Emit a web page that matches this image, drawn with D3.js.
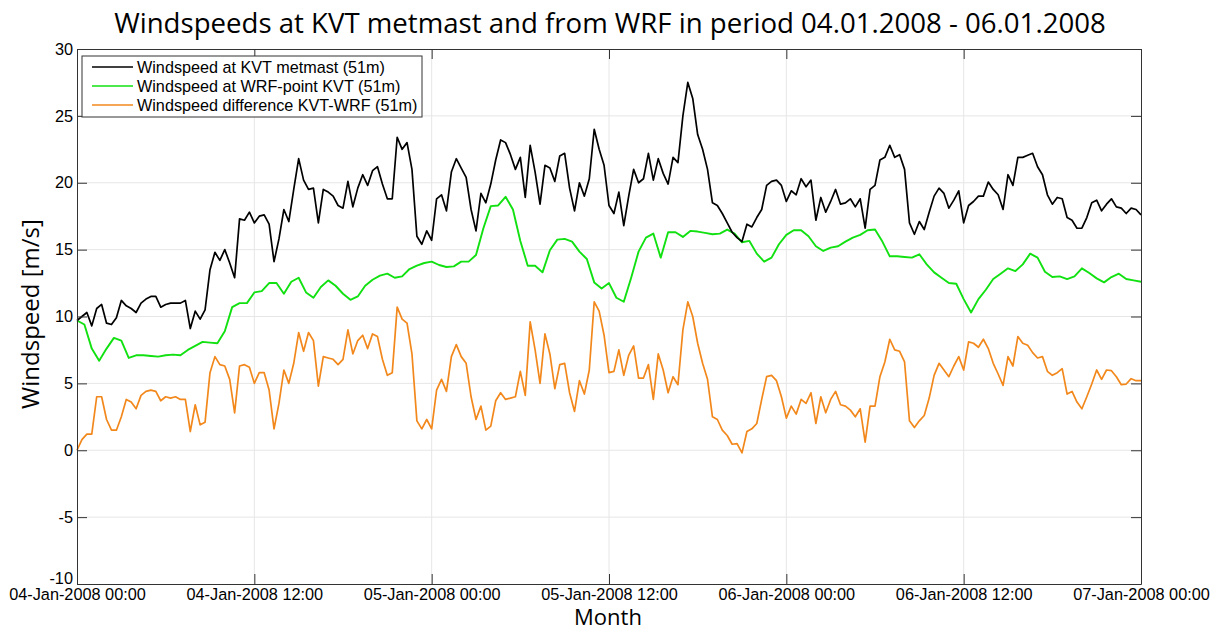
<!DOCTYPE html>
<html>
<head>
    <meta charset="utf-8">
    <title>Windspeeds KVT vs WRF</title>
    <script src="https://d3js.org/d3.v7.min.js"></script>
    <style>
        body { margin: 0; background: #fff; }
        .tick text { font-family: "Liberation Sans", Arial, sans-serif; font-size: 16.3px; fill: #000; }
        .bigText { font-family: "Open Sans", sans-serif; fill: #000; }
    </style>
</head>
<body>
    <div id="chart"></div>
    <script>
        // series start and sampling steps (measured every 20 min, WRF every 30 min)
        var startTime = Date.UTC(2008, 0, 4, 0, 0);
        var kvtStepMinutes = 20;
        var wrfStepMinutes = 30;

        // Windspeed at KVT metmast (51m)
        var kvtSpeed = [
            9.7, 10.0, 10.3, 9.3, 10.6, 10.9, 9.5, 9.4, 9.9, 11.2, 10.8, 10.6, 10.3, 11.0, 11.3, 11.5, 11.5, 10.7, 10.9, 11.0,
            11.0, 11.0, 11.2, 9.1, 10.4, 9.8, 10.5, 13.5, 14.8, 14.2, 15.0, 14.0, 12.9, 17.3, 17.2, 17.8, 17.0,
            17.5, 17.6, 16.9, 14.1, 15.8, 18.0, 17.1, 19.5, 21.8, 20.2, 19.5, 19.6, 17.0, 19.5, 19.3, 19.0, 18.3, 18.1,
            20.1, 18.2, 19.6, 20.6, 19.8, 20.9, 21.2, 19.9, 18.8, 18.8, 23.4, 22.5, 23.0, 21.0, 16.0, 15.4, 16.4, 15.7,
            18.8, 19.1, 17.9, 20.8, 21.8, 21.1, 20.4, 18.0, 16.4, 19.2, 18.5, 19.9, 21.7, 23.2, 23.0, 22.1, 21.0, 21.9,
            18.9, 22.8, 20.8, 18.4, 21.3, 21.1, 20.1, 22.0, 22.2, 19.6, 17.9, 20.0, 19.0, 20.3, 24.0, 22.5, 21.3, 18.3,
            17.7, 19.3, 16.8, 19.0, 21.0, 20.0, 20.3, 22.2, 20.2, 21.8, 20.7, 19.9, 21.9, 21.5, 25.0, 27.5, 26.3, 23.6,
            22.5, 21.0, 18.5, 18.3, 17.7, 17.0, 16.3, 15.9, 15.6, 16.9, 16.7, 17.4, 18.0, 19.8, 20.1, 20.2, 19.8, 18.6,
            19.4, 19.1, 20.3, 19.7, 20.2, 17.2, 18.9, 17.8, 18.6, 19.5, 18.4, 18.5, 18.8, 18.2, 18.8, 16.6, 19.5, 19.8,
            21.7, 21.9, 22.8, 21.9, 22.1, 21.0, 17.0, 16.15, 17.1, 16.5, 17.8, 19.0, 19.6, 19.2, 18.1, 18.7, 19.4, 17.0,
            18.3, 18.6, 19.0, 19.0, 20.05, 19.5, 19.1, 18.0, 20.6, 19.8, 21.9, 21.9, 22.05, 22.2, 21.2, 20.6, 19.1, 18.4,
            18.9, 18.8, 17.4, 17.2, 16.6, 16.6, 17.4, 18.5, 18.7, 17.9, 18.4, 18.8, 18.2, 18.1, 17.7, 18.1, 18.0, 17.6
        ];

        // Windspeed at WRF-point KVT (51m)
        var wrfSpeed = [
            9.7, 9.4, 7.6, 6.7, 7.6, 8.4, 8.2, 6.9, 7.1, 7.1, 7.05, 7.0, 7.1, 7.15, 7.1, 7.5, 7.8, 8.1, 8.05, 8.0,
            8.9, 10.7, 11.0, 11.0, 11.8,
            11.9, 12.5, 12.5, 11.7, 12.6, 12.9, 11.8, 11.4, 12.2, 12.7, 12.3, 11.7, 11.25, 11.5, 12.3, 12.75, 13.05, 13.2,
            12.9, 13.0, 13.55, 13.8, 14.0, 14.1,
            13.85, 13.7, 13.75, 14.1, 14.1, 14.6, 16.6, 18.25, 18.3, 18.95, 18.0, 15.65, 13.8, 13.8, 13.3, 14.95, 15.75,
            15.8, 15.6, 14.85, 14.3, 12.55, 12.1, 12.5,
            11.4, 11.1, 12.9, 14.85, 15.9, 16.2, 14.4, 16.3, 16.3, 15.95, 16.4, 16.35, 16.25, 16.15, 16.2, 16.5, 16.2,
            15.55, 15.65, 14.7, 14.1, 14.4, 15.4, 16.1,
            16.45, 16.45, 16.0, 15.25, 14.9, 15.15, 15.25, 15.6, 15.9, 16.1, 16.45, 16.5, 15.6, 14.5, 14.5, 14.45, 14.4,
            14.65, 13.9, 13.3, 12.9, 12.5, 12.45, 11.3,
            10.3, 11.3, 12.0, 12.8, 13.2, 13.6, 13.4, 13.9, 14.7, 14.4, 13.35, 12.95, 13.0, 12.8, 13.0, 13.6, 13.25,
            12.85, 12.55, 12.95, 13.2, 12.8, 12.7, 12.6
        ];

        // Windspeed difference KVT-WRF (51m)
        var speedDiff = [
            0.0, 0.8, 1.2, 1.2, 4.0, 4.0, 2.3, 1.5, 1.5, 2.5, 3.8, 3.6, 3.1, 4.1, 4.4, 4.5, 4.4, 3.7, 4.0, 3.9,
            4.0, 3.8, 3.8, 1.4, 3.4, 1.9, 2.1, 5.8, 7.0, 6.4, 6.3, 5.3, 2.8, 6.3, 6.4, 6.2, 5.0,
            5.8, 5.8, 4.5, 1.6, 3.5, 6.0, 5.0, 6.5, 8.8, 7.4, 8.8, 8.2, 4.8, 7.0, 6.9, 6.8, 6.4, 6.8,
            9.0, 7.2, 8.2, 8.6, 7.6, 8.7, 8.5, 6.8, 5.6, 5.8, 10.7, 9.8, 9.5, 7.2, 2.2, 1.6, 2.3, 1.6,
            4.5, 5.3, 4.4, 7.0, 7.9, 7.0, 6.5, 4.0, 2.3, 3.3, 1.5, 1.8, 3.7, 4.3, 3.8, 3.9, 4.0, 5.9,
            4.1, 9.6, 7.5, 5.0, 8.7, 7.2, 4.6, 6.4, 6.5, 4.3, 2.9, 5.2, 4.2, 6.0, 11.1, 10.4, 8.6, 5.8,
            5.9, 7.5, 5.6, 7.1, 7.8, 5.4, 5.4, 6.4, 3.8, 7.2, 6.0, 4.3, 5.5, 4.9, 9.0, 11.1, 10.0, 8.0,
            6.5, 5.3, 2.5, 2.3, 1.5, 1.1, 0.45, 0.5, -0.2, 1.4, 1.6, 2.0, 3.8, 5.5, 5.6, 5.2, 4.0, 2.4,
            3.3, 2.7, 3.8, 3.5, 4.3, 2.0, 4.0, 2.8, 3.8, 4.4, 3.4, 3.3, 3.0, 2.5, 3.1, 0.6, 3.3, 3.3,
            5.5, 6.6, 8.3, 7.5, 7.4, 6.6, 2.2, 1.7, 2.2, 2.6, 3.9, 5.6, 6.5, 6.0, 5.5, 6.3, 7.0, 6.0,
            8.1, 8.0, 7.7, 8.3, 7.6, 6.5, 5.7, 4.85, 7.0, 6.3, 8.5, 8.0, 7.85, 7.3, 6.9, 7.0, 5.9, 5.6,
            5.8, 6.1, 4.2, 4.4, 3.6, 3.1, 4.0, 4.95, 6.0, 5.3, 6.0, 5.95, 5.5, 4.9, 4.95, 5.35, 5.2, 5.2
        ];

        var yTicks = [-10, -5, 0, 5, 10, 15, 20, 25, 30];
        var seriesNames = ["Windspeed at KVT metmast (51m)", "Windspeed at WRF-point KVT (51m)", "Windspeed difference KVT-WRF (51m)"];
        var seriesColors = ["#000000", "#11e011", "#f2881c"];

        var W = 1220, H = 630;
        var margin = { top: 49, right: 79, bottom: 46, left: 77 };
        var width = W - margin.left - margin.right,
            height = H - margin.top - margin.bottom;

        var svg = d3.select("#chart").append("svg")
            .attr("width", W)
            .attr("height", H);
        var g = svg.append("g").attr("transform", `translate(${margin.left},${margin.top})`);

        var x = d3.scaleUtc()
            .domain([new Date(startTime), new Date(Date.UTC(2008, 0, 7, 0, 0))])
            .range([0, width]);
        var y = d3.scaleLinear().domain([-10, 30]).range([height, 0]);
        var xTicks = d3.utcHour.every(12).range(x.domain()[0], new Date(x.domain()[1].getTime() + 1));

        // light grid
        g.append("g").selectAll("line").data(yTicks.slice(1, -1)).enter().append("line")
            .attr("x1", 0).attr("x2", width)
            .attr("y1", d => y(d)).attr("y2", d => y(d))
            .attr("stroke", "#e6e6e6");
        g.append("g").selectAll("line").data(xTicks.slice(1, -1)).enter().append("line")
            .attr("y1", 0).attr("y2", height)
            .attr("x1", d => x(d)).attr("x2", d => x(d))
            .attr("stroke", "#e6e6e6");

        // lines
        function toPoints(values, stepMinutes) {
            return values.map((v, i) => ({ t: new Date(startTime + i * stepMinutes * 60000), v: v }));
        }
        var line = d3.line().x(d => x(d.t)).y(d => y(d.v));
        var series = [
            toPoints(kvtSpeed, kvtStepMinutes),
            toPoints(wrfSpeed, wrfStepMinutes),
            toPoints(speedDiff, kvtStepMinutes)
        ];
        var widths = [1.7, 1.9, 1.7];
        // orange first, then green, black on top
        [2, 1, 0].forEach(i => {
            g.append("path")
                .datum(series[i])
                .attr("fill", "none")
                .attr("stroke", seriesColors[i])
                .attr("stroke-width", widths[i])
                .attr("stroke-linejoin", "round")
                .attr("d", line);
        });

        // axes, ticks pointing inward
        var axisColor = "#333";
        var fmt = d3.utcFormat("%d-%b-%Y %H:%M");
        var gx = g.append("g").attr("transform", `translate(0,${height})`)
            .call(d3.axisBottom(x).tickValues(xTicks).tickFormat(fmt).tickSizeInner(-10).tickSizeOuter(0).tickPadding(6));
        var gy = g.append("g")
            .call(d3.axisLeft(y).tickValues(yTicks).tickFormat(d => String(d)).tickSizeInner(-10).tickSizeOuter(0).tickPadding(4));
        var gt = g.append("g")
            .call(d3.axisTop(x).tickValues(xTicks).tickFormat("").tickSizeInner(-10).tickSizeOuter(0));
        var gr = g.append("g").attr("transform", `translate(${width},0)`)
            .call(d3.axisRight(y).tickValues(yTicks).tickFormat("").tickSizeInner(-10).tickSizeOuter(0));
        [gx, gy, gt, gr].forEach(a => {
            a.selectAll("path, line").attr("stroke", axisColor);
        });
        gx.selectAll("text").attr("dy", "0.62em");
        // lowest y label sits a little higher, clear of the date labels
        gy.selectAll(".tick text").filter(d => d === -10).attr("dy", "-0.05em");

        // legend
        var legend = g.append("g").attr("transform", "translate(5,7)");
        legend.append("rect")
            .attr("width", 340).attr("height", 61)
            .attr("fill", "#fff").attr("stroke", axisColor);
        seriesNames.forEach((name, i) => {
            var ly = 11 + i * 19;
            legend.append("line")
                .attr("x1", 10).attr("x2", 51)
                .attr("y1", ly).attr("y2", ly)
                .attr("stroke", seriesColors[i]).attr("stroke-width", 1.7);
            legend.append("text")
                .attr("x", 55).attr("y", ly)
                .attr("dy", "0.35em")
                .style("font-family", "'Liberation Sans', Arial, sans-serif")
                .style("font-size", "16.2px")
                .text(name);
        });

        // title and axis labels
        svg.append("text").attr("class", "bigText")
            .attr("x", 610).attr("y", 33)
            .attr("text-anchor", "middle")
            .style("font-size", "27.6px")
            .text("Windspeeds at KVT metmast and from WRF in period 04.01.2008 - 06.01.2008");
        svg.append("text").attr("class", "bigText")
            .attr("x", 608).attr("y", 625)
            .attr("text-anchor", "middle")
            .style("font-size", "22px")
            .text("Month");
        svg.append("text").attr("class", "bigText")
            .attr("transform", "translate(39,314) rotate(-90)")
            .attr("text-anchor", "middle")
            .style("font-size", "24px")
            .text("Windspeed [m/s]");
    </script>
</body>
</html>
